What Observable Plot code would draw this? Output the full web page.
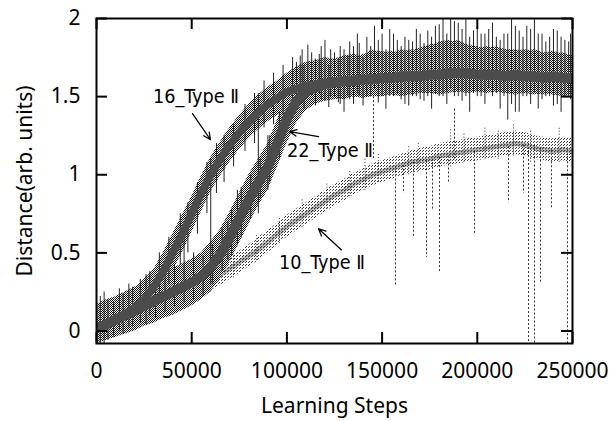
<!DOCTYPE html>
<html>
<head>
<meta charset="utf-8">
<script src="https://cdn.jsdelivr.net/npm/d3@7"></script>
<script src="https://cdn.jsdelivr.net/npm/@observablehq/plot@0.6"></script>
<style>
  html, body { margin: 0; padding: 0; background: #fff; }
  #chart { width: 613px; height: 421px; }
</style>
</head>
<body>
<div id="chart"></div>
<script>
// Sample positions (learning steps)
const steps = [0,5000,10000,15000,20000,25000,30000,35000,40000,45000,50000,55000,60000,65000,70000,75000,80000,85000,90000,95000,100000,105000,110000,115000,120000,125000,130000,135000,140000,145000,150000,155000,160000,165000,170000,175000,180000,185000,190000,195000,200000,205000,210000,215000,220000,225000,230000,235000,240000,245000,250000];

// 16_Type II : centre, upper and lower envelope
const c16  = [0.02,0.05,0.08,0.11,0.15,0.2,0.28,0.38,0.5,0.62,0.75,0.88,1.0,1.1,1.19,1.27,1.34,1.4,1.45,1.49,1.53,1.55,1.57,1.58,1.59,1.6,1.6,1.61,1.61,1.62,1.62,1.62,1.62,1.63,1.63,1.64,1.64,1.64,1.65,1.64,1.64,1.63,1.64,1.63,1.63,1.63,1.62,1.63,1.62,1.62,1.62];
const hi16 = [0.16,0.19,0.2,0.25,0.27,0.33,0.39,0.5,0.62,0.74,0.86,0.99,1.11,1.21,1.3,1.38,1.45,1.51,1.56,1.6,1.65,1.69,1.72,1.73,1.75,1.74,1.76,1.77,1.76,1.8,1.78,1.79,1.78,1.8,1.79,1.82,1.85,1.86,1.84,1.83,1.82,1.8,1.82,1.8,1.79,1.8,1.79,1.78,1.79,1.77,1.76];
const lo16 = [-0.08,-0.05,-0.02,0,0.04,0.09,0.17,0.27,0.38,0.5,0.63,0.76,0.89,0.99,1.08,1.16,1.23,1.29,1.34,1.38,1.41,1.43,1.45,1.47,1.48,1.49,1.48,1.5,1.49,1.5,1.5,1.51,1.5,1.51,1.52,1.52,1.51,1.52,1.53,1.52,1.53,1.52,1.53,1.52,1.51,1.52,1.51,1.52,1.51,1.5,1.51];

// 22_Type II
const c22  = [0.02,0.04,0.07,0.1,0.13,0.16,0.19,0.22,0.25,0.28,0.31,0.35,0.41,0.49,0.6,0.72,0.84,0.95,1.05,1.2,1.36,1.47,1.53,1.56,1.58,1.59,1.6,1.6,1.61,1.61,1.62,1.62,1.63,1.63,1.63,1.64,1.64,1.65,1.65,1.65,1.64,1.64,1.64,1.63,1.64,1.63,1.63,1.62,1.63,1.62,1.62];
const hi22 = [0.17,0.2,0.22,0.25,0.28,0.31,0.34,0.37,0.4,0.43,0.46,0.5,0.57,0.65,0.76,0.88,1.0,1.1,1.2,1.35,1.5,1.6,1.66,1.7,1.72,1.73,1.75,1.74,1.77,1.78,1.79,1.77,1.8,1.79,1.81,1.83,1.84,1.85,1.86,1.83,1.81,1.82,1.81,1.8,1.8,1.79,1.8,1.78,1.77,1.78,1.76];
const lo22 = [-0.08,-0.06,-0.04,-0.02,0,0.03,0.05,0.08,0.1,0.13,0.16,0.2,0.25,0.33,0.44,0.56,0.68,0.8,0.9,1.05,1.2,1.33,1.41,1.45,1.47,1.48,1.49,1.5,1.49,1.51,1.5,1.52,1.51,1.52,1.53,1.52,1.53,1.54,1.53,1.54,1.53,1.54,1.53,1.52,1.53,1.52,1.52,1.51,1.52,1.51,1.52];

// 10_Type II
const c10  = [0,0.02,0.04,0.07,0.09,0.12,0.14,0.17,0.2,0.23,0.26,0.29,0.33,0.36,0.4,0.44,0.48,0.52,0.57,0.62,0.67,0.71,0.75,0.79,0.83,0.87,0.9,0.94,0.97,1.0,1.02,1.04,1.06,1.08,1.09,1.1,1.12,1.13,1.14,1.15,1.16,1.17,1.18,1.19,1.2,1.19,1.17,1.16,1.15,1.16,1.15];
const hi10 = [0.1,0.1,0.12,0.14,0.16,0.19,0.2,0.24,0.27,0.3,0.33,0.36,0.4,0.43,0.47,0.51,0.55,0.6,0.64,0.69,0.74,0.78,0.82,0.86,0.9,0.94,0.97,1.01,1.04,1.07,1.09,1.11,1.13,1.15,1.17,1.18,1.2,1.21,1.22,1.23,1.24,1.25,1.26,1.27,1.28,1.27,1.25,1.24,1.23,1.24,1.23];
const lo10 = [-0.06,-0.05,-0.03,0,0.02,0.05,0.07,0.1,0.13,0.16,0.19,0.22,0.26,0.29,0.33,0.37,0.41,0.45,0.5,0.55,0.6,0.64,0.68,0.72,0.76,0.8,0.83,0.87,0.9,0.93,0.95,0.97,0.99,1.01,1.02,1.03,1.05,1.06,1.07,1.08,1.09,1.1,1.11,1.12,1.13,1.12,1.1,1.09,1.08,1.09,1.08];

// Noise spikes in the 16/22 band: step, low, high
const spikeX  = [2000,6000,12000,17000,23000,28000,33000,38000,44000,48000,53000,58000,63000,67000,72000,78000,83000,88000,93000,98000,103000,108000,113000,118000,123000,128000,133000,138000,142000,146000,150000,154000,158000,162000,166000,170000,174000,178000,182000,186000,190000,194000,198000,202000,206000,210000,214000,218000,222000,226000,230000,234000,238000,242000,246000,249000,56000,61000,66000,71000,76000,81000,86000,91000,96000,
  105000,107000,109000,111000,115000,117000,120000,122000,125000,127000,130000,132000,135000,137000,140000,144000,148000,152000,156000,160000,164000,168000,172000,176000,180000,184000,188000,192000,196000,200000,204000,208000,212000,216000,220000,224000,228000,232000,236000,240000,244000,248000,
  4000,9000,14000,19000,26000,31000,36000,41000,46000,51000,60000,69000,74000,85000,90000];
const spikeLo = [-0.08,-0.06,0,0.02,0.05,0.1,0.2,0.3,0.42,0.5,0.62,0.75,0.88,0.95,1.05,1.15,1.2,1.3,1.32,1.38,1.4,1.5,1.5,1.48,1.5,1.45,1.48,1.5,1.5,1.55,1.5,1.5,1.52,1.45,1.5,1.48,1.5,1.52,1.5,1.55,1.5,1.5,1.52,1.5,1.55,1.52,1.5,1.45,1.4,1.5,1.52,1.48,1.5,1.45,1.5,1.48,0.22,0.3,0.38,0.48,0.6,0.72,0.85,0.95,1.1,
  1.45,1.5,1.42,1.5,1.44,1.52,1.47,1.43,1.5,1.46,1.4,1.5,1.45,1.52,1.44,1.5,1.46,1.42,1.5,1.48,1.44,1.5,1.47,1.42,1.5,1.45,1.5,1.47,1.4,1.5,1.45,1.5,1.42,1.35,1.4,1.5,1.45,1.42,1.5,1.44,1.4,1.5,
  -0.08,-0.04,-0.02,0.03,0.04,0.08,0.12,0.15,0.18,0.2,0.3,0.45,0.55,0.75,0.9];
const spikeHi = [0.22,0.2,0.27,0.3,0.33,0.38,0.5,0.6,0.75,0.82,0.95,1.08,1.2,1.25,1.32,1.45,1.52,1.6,1.65,1.7,1.75,1.8,1.78,1.82,1.8,1.82,1.85,1.84,1.88,1.95,1.9,1.93,1.86,1.88,1.85,1.9,1.92,1.95,2.0,2.0,1.97,2.0,1.92,1.9,1.93,1.88,1.9,2.0,1.92,1.95,2.0,1.9,1.88,1.92,1.86,1.9,0.48,0.55,0.66,0.78,0.92,1.0,1.1,1.25,1.4,
  1.72,1.76,1.7,1.83,1.74,1.77,1.86,1.7,1.78,1.74,1.8,1.76,1.82,1.9,1.75,1.82,1.86,1.8,1.9,1.82,1.86,1.93,1.84,1.88,1.96,1.9,1.98,1.93,1.88,1.95,1.9,1.97,1.86,1.9,1.95,1.88,1.93,1.9,1.85,1.93,1.88,1.85,
  0.25,0.18,0.24,0.28,0.36,0.3,0.45,0.42,0.68,0.5,1.1,0.7,0.9,1.52,1.25];

// Small scatter around 10_Type II
const dotX  = [60000,72000,84000,96000,108000,121000,133000,141000,148000,164000,169000,186000,193000,204000,211000,219000,228000,243000];
const dotLo = [0.25,0.34,0.45,0.56,0.66,0.78,0.86,0.9,0.95,1.0,1.02,1.05,1.08,1.1,1.1,1.12,1.08,1.08];
const dotHi = [0.42,0.5,0.62,0.72,0.85,0.95,1.02,1.1,1.14,1.18,1.2,1.3,1.27,1.3,1.29,1.33,1.28,1.3];

// Dashed drop-outs: step, from, to
const dropX  = [145480,157040,161240,166490,173320,176470,180150,184870,188030,198530,216390,224260,226890,230040,233190,238970,247370];
const dropY1 = [1.5,1.05,1.06,1.08,1.09,1.1,1.11,1.12,1.42,1.15,1.18,1.19,1.2,1.19,1.17,1.16,1.16];
const dropY2 = [1.1,0.29,0.88,0.6,0.47,0.77,0.38,0.95,1.1,0.62,0.82,0.88,-0.08,-0.08,0.3,0.78,-0.08];

// Annotations
const labels   = ["16_Type Ⅱ","22_Type Ⅱ","10_Type Ⅱ"];
const labelX   = [52260,122640,118440];
const labelY   = [1.5,1.154,0.436];
const arrowX1  = [50420,116600,128680];
const arrowY1  = [1.391,1.244,0.519];
const arrowX2  = [59870,101360,116600];
const arrowY2  = [1.224,1.276,0.654];

const xTicks = [0,50000,100000,150000,200000,250000];
const yTicks = [0,0.5,1,1.5,2];

const table = steps.map((x, i) => ({x, c16: c16[i], hi16: hi16[i], lo16: lo16[i], c22: c22[i], hi22: hi22[i], lo22: lo22[i], c10: c10[i], hi10: hi10[i], lo10: lo10[i]}));
const spikes = spikeX.map((x, i) => ({x, y1: spikeLo[i], y2: spikeHi[i]}));
const dots = dotX.map((x, i) => ({x, y1: dotLo[i], y2: dotHi[i]}));
const drops = dropX.map((x, i) => ({x, y1: dropY1[i], y2: dropY2[i]}));
const notes = labels.map((t, i) => ({t, x: labelX[i], y: labelY[i], x1: arrowX1[i], y1: arrowY1[i], x2: arrowX2[i], y2: arrowY2[i]}));

const W = 613, H = 421, mL = 96, mR = 41, mT = 18, mB = 78;
const plotW = W - mL - mR, plotH = H - mT - mB;
const tickLen = 11;

const chart = Plot.plot({
  width: W, height: H,
  marginLeft: mL, marginRight: mR, marginTop: mT, marginBottom: mB,
  style: {fontFamily: "'Noto Sans', sans-serif", background: "#fff", color: "#000"},
  x: {domain: [0, 250000]},
  y: {domain: [-0.08, 2]},
  marks: [
    Plot.areaY(table, {x: "x", y1: "lo10", y2: "hi10", fill: "url(#pLight)", clip: true}),
    Plot.line(table, {x: "x", y: "c10", stroke: "url(#pLight2)", strokeWidth: 5, clip: true}),
    Plot.ruleX(dots, {x: "x", y1: "y1", y2: "y2", stroke: "#333", strokeWidth: 1, strokeDasharray: "1,2", clip: true}),
    Plot.ruleX(drops, {x: "x", y1: "y1", y2: "y2", stroke: "#333", strokeWidth: 1, strokeDasharray: "2,2", clip: true}),
    Plot.areaY(table, {x: "x", y1: "lo22", y2: "hi22", fill: "url(#pMid)", clip: true}),
    Plot.areaY(table, {x: "x", y1: "lo16", y2: "hi16", fill: "url(#pMid)", clip: true}),
    Plot.ruleX(spikes, {x: "x", y1: "y1", y2: "y2", stroke: "#222", strokeWidth: 1, clip: true}),
    Plot.line(table, {x: "x", y: "c22", stroke: "url(#pDark)", strokeWidth: 10, clip: true}),
    Plot.line(table, {x: "x", y: "c16", stroke: "url(#pDark)", strokeWidth: 8, clip: true}),
    // inward ticks on all four sides
    Plot.tickX(xTicks, {x: d => d, insetTop: plotH - tickLen, stroke: "#000", strokeWidth: 2}),
    Plot.tickX(xTicks, {x: d => d, insetBottom: plotH - tickLen, stroke: "#000", strokeWidth: 2}),
    Plot.tickY(yTicks, {y: d => d, insetRight: plotW - tickLen, stroke: "#000", strokeWidth: 2}),
    Plot.tickY(yTicks, {y: d => d, insetLeft: plotW - tickLen, stroke: "#000", strokeWidth: 2}),
    Plot.frame({stroke: "#000", strokeWidth: 2}),
    Plot.axisX({ticks: xTicks, tickSize: 0, tickPadding: 20, fontSize: 21, tickFormat: d => String(d),
      label: "Learning Steps", labelAnchor: "center", labelOffset: 69, labelArrow: "none"}),
    Plot.axisY({ticks: yTicks, tickSize: 0, tickPadding: 16, fontSize: 21, tickFormat: d => String(d),
      label: "Distance(arb. units)", labelAnchor: "center", labelOffset: 79, labelArrow: "none"}),
    Plot.arrow(notes, {x1: "x1", y1: "y1", x2: "x2", y2: "y2", stroke: "#000", strokeWidth: 1.3, headLength: 9, headAngle: 50}),
    Plot.text(notes, {x: "x", y: "y", text: "t", fontSize: 20, fill: "#000", fontFamily: "'DejaVu Sans Condensed', 'DejaVu Sans', sans-serif"})
  ]
});

// textures (style only)
const ns = "http://www.w3.org/2000/svg";
const defs = document.createElementNS(ns, "defs");
defs.innerHTML = `
  <pattern id="pDark" width="2" height="2" patternUnits="userSpaceOnUse">
    <rect width="2" height="2" fill="#111"/><rect x="1" y="1" width="1" height="1" fill="#fff"/>
  </pattern>
  <pattern id="pMid" width="2" height="2" patternUnits="userSpaceOnUse">
    <rect width="2" height="2" fill="#fff"/><rect width="1" height="1" fill="#111"/><rect x="1" y="1" width="1" height="1" fill="#111"/>
  </pattern>
  <pattern id="pLight" width="3" height="3" patternUnits="userSpaceOnUse">
    <rect width="1" height="1" fill="#333"/><rect x="2" y="1" width="1" height="1" fill="#444"/>
  </pattern>
  <pattern id="pLight2" width="3" height="3" patternUnits="userSpaceOnUse">
    <rect width="1" height="1" fill="#111"/><rect x="2" y="1" width="1" height="1" fill="#111"/><rect x="1" y="2" width="1" height="1" fill="#222"/>
  </pattern>`;
chart.insertBefore(defs, chart.firstChild);

document.getElementById("chart").appendChild(chart);
chart.querySelectorAll("text").forEach(t => {
  if (t.textContent.includes("Type")) {
    t.setAttribute("textLength", "86");
    t.setAttribute("lengthAdjust", "spacingAndGlyphs");
  }
});
</script>
</body>
</html>
